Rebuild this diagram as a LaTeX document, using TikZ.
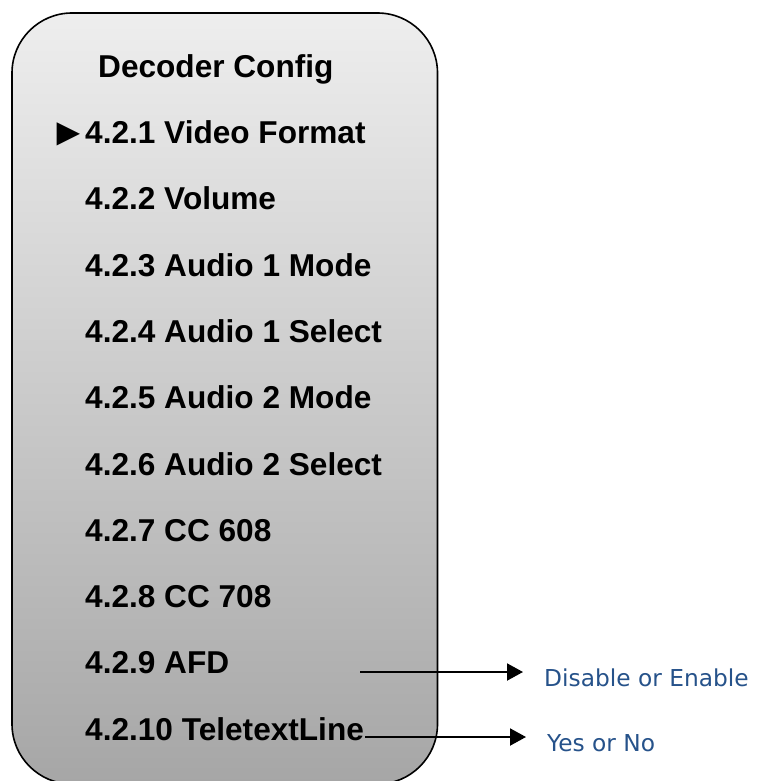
\documentclass[tikz,border=0pt]{standalone}
\usepackage{fontspec}
\setmainfont{Liberation Sans}
\newfontfamily\verdfont{DejaVu Sans}
\usetikzlibrary{positioning,arrows.meta}
\definecolor{menutop}{RGB}{238,238,238}
\definecolor{menubot}{RGB}{166,166,166}
\definecolor{hintblue}{RGB}{38,82,138}
\tikzset{
  item/.style={anchor=base west, inner sep=0pt, font=\fontsize{31.6}{38}\selectfont\bfseries},
  hint/.style={anchor=base west, inner ysep=0pt, inner xsep=21pt, text=hintblue, font=\verdfont\fontsize{23.3}{28}\selectfont},
  hintarrow/.style={-{Triangle[length=16pt,width=17pt]}, line width=2pt},
}

\begin{document}
\begin{tikzpicture}[x=1pt, y=-1pt, node distance=66.3pt]
	\useasboundingbox (0,0) rectangle (757,781);
	% menu panel
	\shade[top color=menutop, bottom color=menubot, draw=black, line width=1.6pt, rounded corners=60pt] (12,13) rectangle (437.5,784);
	
	\node[item] (title) at (98,77.5) {Decoder Config};
	\node[item] (fmt) at (85,143.5) {4.2.1 Video Format};
	\node[item, anchor=base east, font=\fontsize{39}{44}\selectfont] (cursor) at ([xshift=3.7pt, yshift=-2.5pt]fmt.base west) {►};
	\node[item, below=of fmt.base west, anchor=base west] (vol) {4.2.2 Volume};
	\node[item, below=of vol.base west, anchor=base west] (am1) {4.2.3 Audio 1 Mode};
	\node[item, below=of am1.base west, anchor=base west] (as1) {4.2.4 Audio 1 Select};
	\node[item, below=of as1.base west, anchor=base west] (am2) {4.2.5 Audio 2 Mode};
	\node[item, below=of am2.base west, anchor=base west] (as2) {4.2.6 Audio 2 Select};
	\node[item, below=of as2.base west, anchor=base west] (cc6) {4.2.7 CC 608};
	\node[item, below=of cc6.base west, anchor=base west] (cc7) {4.2.8 CC 708};
	\node[item, below=of cc7.base west, anchor=base west] (afd) {4.2.9 AFD};
	\node[item, below=of afd.base west, anchor=base west] (ttx) {4.2.10 TeletextLine};
	
	% option hints
	\node[hint] (dis) at (523,686.7) {Disable or Enable};
	\node[hint] (yes) at (526,751) {Yes or No};
	\coordinate (afdend) at (360,672);
	\coordinate (ttxend) at (365,737);
	\draw[hintarrow] (afdend) -- (afdend -| dis.west);
	\draw[hintarrow] (ttxend) -- (ttxend -| yes.west);
\end{tikzpicture}
\end{document}
